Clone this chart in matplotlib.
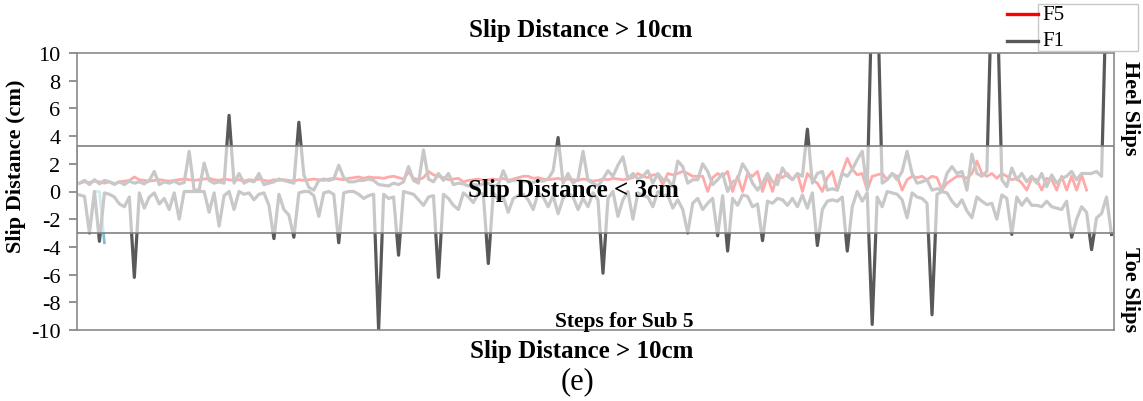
import numpy as np
import matplotlib
matplotlib.use('Agg')
import matplotlib.pyplot as plt
from matplotlib.patches import Rectangle
from matplotlib.lines import Line2D

plt.rcParams['font.family'] = ['Liberation Serif', 'DejaVu Serif']
plt.rcParams['axes.unicode_minus'] = False

# slip distance per step (cm), Sub 5
f5 = [0.6, 0.7, 0.65, 0.75, 0.7, 0.6, 0.7, 0.5, 0.7, 0.75,
      0.8, 1.05, 0.85, 0.8, 0.75, 0.8, 0.85, 0.8, 0.75, 0.8,
      0.85, 0.9, 0.85, 0.8, 0.85, 0.9, 0.95, 0.85, 0.8, 0.9,
      0.85, 0.8, 0.85, 0.75, 0.85, 0.8, 0.9, 0.8, 0.75, 0.85,
      0.8, 0.85, 0.8, 0.75, 0.85, 0.8, 0.85, 0.9, 0.85, 0.8,
      0.9, 0.95, 0.9, 0.85, 0.95, 1.0, 1.05, 0.95, 1.05, 1.0,
      1.0, 0.95, 1.05, 1.1, 1.0, 0.9, 1.4, 0.95, 0.85, 1.0,
      1.45, 1.2, 1.1, 1.0, 0.85, 0.9, 0.95, 0.7, 0.8, 0.85,
      0.9, 0.8, 0.85, 0.9, 0.85, 0.95, 0.8, 0.9, 1.0, 1.1,
      1.1, 0.95, 1.0, 0.9, 0.85, 0.9, 0.95, 0.85, 0.9, 0.85,
      0.8, 0.9, 0.85, 0.75, 0.8, 0.9, 0.85, 0.95, 0.9, 0.85,
      0.9, 1.0, 1.3, 1.1, 1.0, 1.2, 1.2, 0.5, 1.3, 1.2,
      1.3, 1.45, 1.3, 1.1, 1.1, 1.1, 0.0, 1.0, 1.3, 1.1,
      1.45, 0.0, 1.1, 0.0, 1.3, 1.1, 1.45, 0.0, 1.1, 0.0,
      1.2, 1.0, 1.3, 0.85, 1.3, 0.0, 1.3, 0.85, 0.6, 0.0,
      1.0, 1.45, 0.1, 1.4, 2.4, 1.6, 1.2, 1.3, 0.1, 1.1,
      1.2, 1.3, 0.85, 1.3, 1.1, 0.1, 0.85, 1.1, 1.0, 1.1,
      0.85, 1.1, 1.0, 0.1, 0.6, 0.85, 1.1, 1.1, 0.95, 1.3,
      2.2, 1.3, 1.1, 1.3, 0.95, 1.3, 1.1, 0.85, 0.95, 0.6,
      0.1, 0.95, 0.85, 0.1, 0.95, 0.85, 0.1, 1.1, 0.1, 1.1,
      0.1, 1.2, 0.1]

f1_heel = [0.6, 0.8, 0.5, 0.85, 0.55, 0.8, 0.7, 0.55, 0.7, 0.5,
           0.75, 0.6, 0.7, 0.55, 0.8, 1.45, 0.5, 0.7, 0.6, 0.75,
           0.55, 0.65, 2.9, 0.1, 0.1, 2.05, 0.8, 0.6, 0.7, 0.6,
           5.5, 0.6, 1.3, 0.6, 0.8, 0.7, 1.3, 0.5, 0.6, 0.7,
           0.9, 0.8, 0.7, 0.6, 5.0, 1.2, 0.3, 0.1, 0.8, 0.9,
           0.8, 0.9, 1.9, 1.0, 0.7, 0.7, 0.8, 0.8, 0.9, 0.8,
           0.5, 0.45, 0.4, 0.6, 0.5, 0.7, 1.8, 0.8, 0.6, 3.0,
           0.9, 0.7, 1.3, 0.8, 1.3, 0.5, 0.6, 0.55, 0.4, 0.5,
           0.45, 0.55, 0.6, 0.4, 0.5, 1.5, 0.7, 0.8, 0.85, 0.75,
           0.7, 0.65, 0.8, 0.75, 0.9, 1.5, 3.9, 0.6, 1.3, 0.6,
           0.9, 2.9, 0.8, 0.6, 0.4, 0.9, 1.5, 1.1, 1.9, 2.5,
           0.9, 1.3, 0.9, 1.1, 1.5, 0.6, 1.3, 0.85, 0.85, 0.35,
           2.2, 1.8, 0.6, 0.85, 0.85, 2.0, 1.45, 0.5, 0.85, 1.3,
           0.0, 0.7, 0.85, 2.0, 1.45, 0.6, 0.1, 0.6, 1.3, 0.7,
           0.5, 1.7, 1.1, 0.85, 1.3, 1.1, 4.5, 0.6, 1.3, 1.45,
           0.1, 0.2, 0.1, 1.3, 1.1, 1.6, 2.3, 2.9, 0.1, 15.0,
           15.0, 0.6, 0.85, 1.3, 0.85, 1.45, 2.9, 1.3, 0.6, 0.7,
           0.85, 0.1, 0.2, 0.1, 1.3, 1.8, 1.3, 1.45, 0.1, 2.7,
           1.3, 1.1, 1.45, 15.0, 15.0, 0.85, 0.35, 1.7, 0.85, 1.3,
           0.7, 1.1, 0.6, 1.3, 0.35, 1.2, 0.6, 0.95, 1.1, 1.45,
           0.85, 1.3, 1.3, 1.3, 1.45, 1.1, 15.0, 15.0]

f1_toe = [-0.25, -0.35, -3.0, 0.0, -3.6, -0.1, -0.2, -0.4, -0.9, -1.1,
          -0.4, -6.2, -0.1, -1.2, -0.4, -0.1, -0.9, -0.5, -1.3, -0.1,
          -2.0, 0.0, 0.0, 0.0, 0.0, 0.0, -1.5, -0.1, -2.5, -0.3,
          0.0, -1.3, 0.0, -0.2, -0.1, -0.6, -0.2, -0.1, -1.0, -3.4,
          -0.2, -1.3, -1.7, -3.3, -0.1, 0.0, 0.0, -0.3, -1.8, -0.1,
          0.0, -0.2, -3.7, -0.1, 0.0, 0.0, -0.2, -0.5, -0.3, -0.2,
          -10.0, -0.2, -0.5, -0.4, -4.6, 0.0, -0.1, -0.2, -0.6, -1.0,
          -0.4, -0.3, -6.2, -0.2, -0.5, -1.0, -1.3, -0.1, -0.4, -0.8,
          -0.1, -0.2, -5.2, -0.1, -0.6, -0.4, -1.5, -0.5, -0.3, -0.2,
          -0.6, -1.3, -0.1, -0.4, -1.1, -0.3, -1.6, -0.5, -0.1, -0.4,
          -1.3, -0.5, -1.1, -0.1, -0.6, -5.9, -0.5, 0.0, -1.8, -0.6,
          0.0, -2.0, -0.1, -0.3, -0.4, -1.1, 0.0, -0.3, -0.25, -1.2,
          -0.6, -1.3, -3.0, -0.85, -0.5, -1.3, -0.85, -0.5, -3.2, -0.3,
          -4.3, -0.5, -1.0, -0.25, -0.35, -1.1, -0.9, -3.55, -0.7, -0.85,
          -0.5, -0.6, -1.0, -0.5, -1.1, -0.25, -1.2, -0.1, -3.9, -1.3,
          -0.7, -0.6, -0.7, -0.4, -4.3, -1.1, 0.0, -0.7, -0.1, -9.6,
          -0.4, -1.1, 0.0, -0.1, -0.2, -0.6, -1.9, -0.1, -0.4, -0.5,
          -0.85, -8.9, -0.2, 0.0, -0.1, -0.7, -1.1, -0.6, -1.4, -1.9,
          -0.4, -0.7, -0.95, -0.85, -2.0, -0.25, -0.5, -3.1, -0.4, -1.0,
          -0.5, -1.0, -1.0, -1.1, -0.7, -1.1, -1.2, -1.3, -0.7, -3.3,
          -2.0, -1.1, -1.5, -4.2, -1.9, -1.6, -0.4, -3.1]

# short extra series at the start
extra_steps = [2, 3, 4, 5]
extra_vals = [-2.8, 0.0, 0.0, -3.7]

band_low, band_high = -3.0, 3.25
yticks = list(range(-10, 11, 2))

W, H = 1143, 402


def px(x, y):
    return x / W, 1 - y / H


fig = plt.figure(figsize=(W / 100, H / 100), dpi=100)
ax = fig.add_axes([77 / W, 1 - 331 / H, (1114 - 77) / W, (331 - 54) / H])

n = len(f1_heel)
ax.plot(extra_steps, extra_vals, color='#7fbfd4', lw=2.0, zorder=1)
ax.plot(np.arange(len(f5)), f5, color='#ff0000', lw=2.0, zorder=2)
ax.plot(np.arange(n), f1_heel, color='#595959', lw=2.3, zorder=2)
ax.plot(np.arange(len(f1_toe)), f1_toe, color='#595959', lw=2.3, zorder=2)

# translucent band for slips under 3cm
ax.add_patch(Rectangle((-0.5, band_low), n, band_high - band_low,
                       facecolor=(1, 1, 1, 0.67), edgecolor='#808080',
                       lw=1.2, zorder=3))

ax.set_xlim(-0.5, n - 0.5)
ax.set_ylim(-10, 10)
ax.set_xticks([])
ax.set_yticks(yticks)
ax.set_yticklabels([str(t) for t in yticks])
ax.tick_params(axis='y', direction='out', length=6, width=1.2,
               color='#808080', labelsize=16, pad=6)
for s in ax.spines.values():
    s.set_color('#8a8a8a')
    s.set_linewidth(1.2)

fig.text(*px(573, 191), 'Slip Distance < 3cm', fontsize=18, fontweight='bold',
         ha='center', va='center', zorder=5)
fig.text(*px(624, 322), 'Steps for Sub 5', fontsize=15.5, fontweight='bold',
         ha='center', va='center', zorder=5)

fig.text(*px(581, 31), 'Slip Distance > 10cm', fontsize=18, fontweight='bold',
         ha='center', va='center')
fig.text(*px(582, 352), 'Slip Distance > 10cm', fontsize=18, fontweight='bold',
         ha='center', va='center')
fig.text(*px(577, 382), '(e)', fontsize=22, ha='center', va='center')
fig.text(*px(16, 166), 'Slip Distance (cm)', fontsize=16, fontweight='bold',
         rotation=90, ha='center', va='center')
fig.text(*px(1130, 108), 'Heel Slips', fontsize=16, fontweight='bold',
         rotation=270, ha='center', va='center')
fig.text(*px(1130, 290), 'Toe Slips', fontsize=16, fontweight='bold',
         rotation=270, ha='center', va='center')

# legend
fig.add_artist(Rectangle(px(1038, 52), 100 / W, 47 / H, transform=fig.transFigure,
                         facecolor='white', edgecolor='#c8c8c8', lw=1.0))
for label, color, y in [('F5', '#ff0000', 15), ('F1', '#595959', 42)]:
    x0, y0 = px(1007, y)
    x1, _ = px(1038, y)
    fig.add_artist(Line2D([x0, x1], [y0, y0], transform=fig.transFigure,
                          color=color, lw=2.4))
    fig.text(*px(1042, y), label, fontsize=15, ha='left', va='center')

fig.savefig('out.png', dpi=100)
